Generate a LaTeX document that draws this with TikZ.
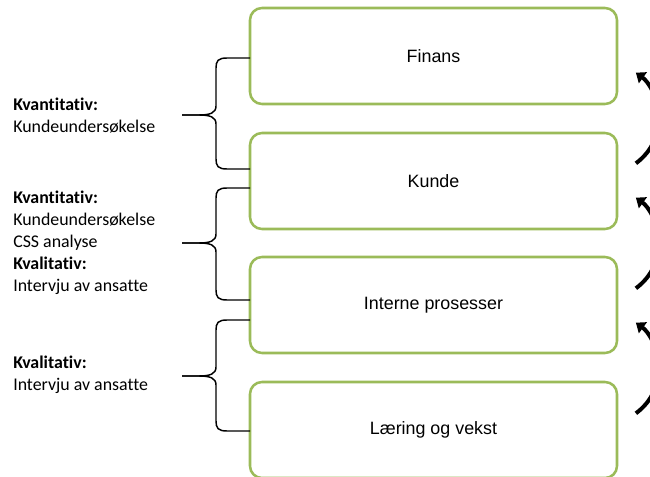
\documentclass[tikz,border=0pt]{standalone}
\usepackage{fontspec}
\setmainfont{Carlito}[Ligatures={NoCommon}]
\newfontfamily\boxfont{Liberation Sans}
\usetikzlibrary{arrows.meta}
\definecolor{pgreen}{HTML}{9BBB59}
\tikzset{
  perspective/.style={draw=pgreen, line width=1.9pt, rounded corners=9pt, fill=white,
    minimum width=275.25pt, minimum height=72pt, font=\boxfont\fontsize{13.4}{16}\selectfont},
  method/.style={anchor=west, align=left, inner sep=0pt,
    font=\fontsize{13.4}{16.5}\selectfont},
  bracket/.style={draw=black, line width=1.1pt},
  loop/.style={draw=black, line width=3pt, -{Triangle[width=10pt,length=6.5pt]}}
}
\begin{document}
\begin{tikzpicture}[x=0.75pt, y=-0.75pt]
\useasboundingbox (0,0) rectangle (650,477);
\clip (0,0) rectangle (650,477);

% the four perspectives
\node[perspective] (fin) at (433.5,56)  {Finans};
\node[perspective] (kun) at (433.5,181) {Kunde};
\node[perspective] (int) at (433.5,305) {Interne prosesser};
\node[perspective] (lae) at (433.5,430) {Læring og vekst};

% methods on the left
\node[method] (m1) at (13,116) {\textbf{Kvantitativ:}\\Kundeundersøkelse};
\node[method] (m2) at (13,243) {\textbf{Kvantitativ:}\\Kundeundersøkelse\\CSS analyse\\\textbf{Kvalitativ:}\\Intervju av ansatte};
\node[method] (m3) at (13,375) {\textbf{Kvalitativ:}\\Intervju av ansatte};

% curly brackets joining each method group to two perspectives
\foreach \yt/\ym/\yb in {58/115/169, 188/243/300, 320/376/431}{
  \draw[bracket] (250,\yt) -- (227,\yt) .. controls (218,\yt) and (216,\yt+3) .. (216,\yt+10)
    -- (216,\ym-9) .. controls (216,\ym-2) and (210,\ym) .. (199,\ym) -- (182,\ym);
  \draw[bracket] (182,\ym) -- (199,\ym) .. controls (210,\ym) and (216,\ym+2) .. (216,\ym+9)
    -- (216,\yb-10) .. controls (216,\yb-3) and (218,\yb) .. (227,\yb) -- (250,\yb);
}

% curved arrows on the right (circle arcs, centre at x=603), each from a
% lower perspective up to the one above
\foreach \i/\dy in {1/0, 2/125, 3/250}{
  \coordinate (s\i) at (635.9,163.3+\dy);
  \draw[loop] (s\i) arc[start angle=54, end angle=-54, radius=56];
}
\end{tikzpicture}
\end{document}
